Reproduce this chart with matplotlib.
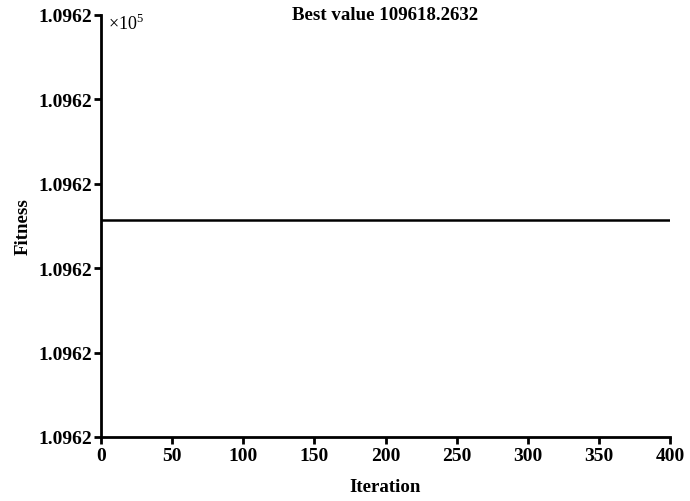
import numpy as np
import matplotlib.pyplot as plt
from matplotlib.ticker import FixedLocator, FuncFormatter

# data
best_value = 109618.2632
iterations = np.arange(0, 401)
fitness = np.full(iterations.shape, best_value)

xticks = [0, 50, 100, 150, 200, 250, 300, 350, 400]
ylow = best_value - 0.0514
yhigh = best_value + 0.0486

plt.rcParams['font.family'] = ['Liberation Serif', 'DejaVu Serif']
plt.rcParams['mathtext.fontset'] = 'custom'
plt.rcParams['mathtext.rm'] = 'Liberation Serif'

fig = plt.figure(figsize=(6.9, 5.02), dpi=100)
ax = fig.add_axes([101 / 690, 1 - 438 / 502, (670 - 101) / 690, (438 - 16) / 502])

ax.plot(iterations, fitness, color='black', lw=1.8)

ax.set_xlim(0, 400)
ax.set_ylim(ylow, yhigh)
ax.xaxis.set_major_locator(FixedLocator(xticks))
ax.yaxis.set_major_locator(FixedLocator(np.linspace(ylow, yhigh, 6)))
ax.yaxis.set_major_formatter(FuncFormatter(lambda v, p: '%.4f' % (v / 1e5)))

for s in ['top', 'right']:
    ax.spines[s].set_visible(False)
for s in ['left', 'bottom']:
    ax.spines[s].set_linewidth(2)
ax.tick_params(direction='out', length=5, width=2, labelsize=14, pad=1)
ax.tick_params(axis='x', pad=2)
for lab in ax.get_xticklabels() + ax.get_yticklabels():
    lab.set_fontweight('bold')

ax.text(0.012, 0.98, r'$\times$10$^{5}$', transform=ax.transAxes, ha='left', va='center',
        fontsize=13)
ax.text(0.5, 1.0, 'Best value %.4f' % best_value, transform=ax.transAxes,
        ha='center', va='center', fontsize=13.6, fontweight='bold')

ax.set_xlabel('Iteration', fontsize=13.6, fontweight='bold', labelpad=10)
ax.set_ylabel('Fitness', fontsize=13.6, fontweight='bold', labelpad=5)

fig.savefig('out.png', dpi=100)
